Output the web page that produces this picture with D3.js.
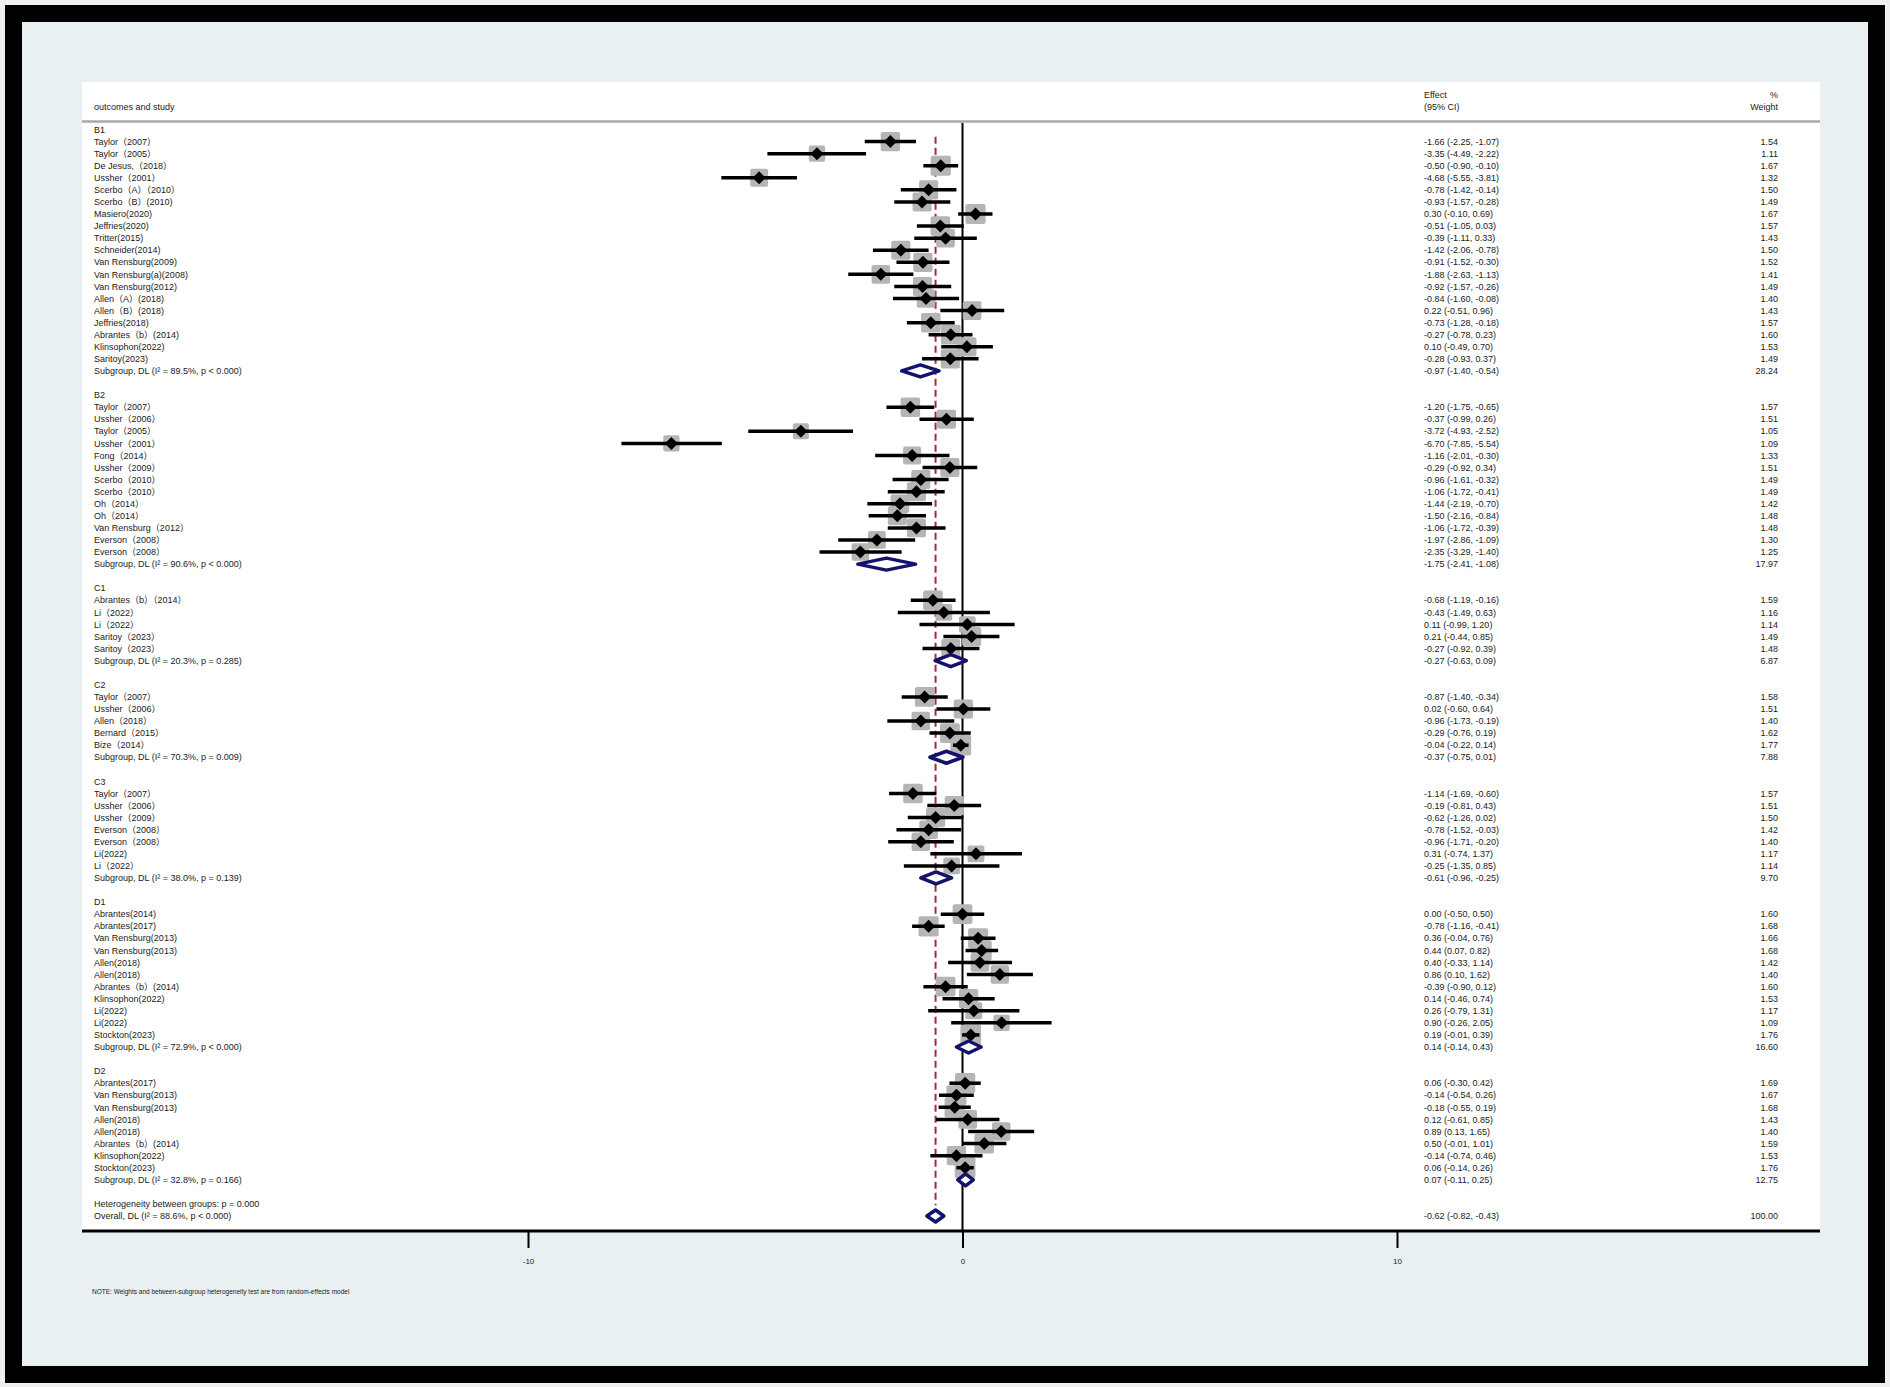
<!DOCTYPE html>
<html>
<head>
<meta charset="utf-8">
<script src="https://cdn.jsdelivr.net/npm/d3@7"></script>
<style>
  body { margin: 0; background: #efefef; }
  text { font-family: "Liberation Sans", Arial, "Noto Sans CJK SC", sans-serif; fill: #1a1a1a; }
</style>
</head>
<body>
<div id="forest"></div>
<script>
// outcome groups and how many studies in each
const groups = ["B1", "B2", "C1", "C2", "C3", "D1", "D2"];
const groupSizes = [19, 13, 5, 5, 7, 11, 8];

// study rows, in order
const studies = [
  "Taylor（2007）", "Taylor（2005）", "De Jesus,（2018）", "Ussher（2001）", "Scerbo（A）（2010）",
  "Scerbo（B）(2010)", "Masiero(2020)", "Jeffries(2020)", "Tritter(2015)", "Schneider(2014)",
  "Van Rensburg(2009)", "Van Rensburg(a)(2008)", "Van Rensburg(2012)", "Allen（A）(2018)", "Allen（B）(2018)",
  "Jeffries(2018)", "Abrantes（b）(2014)", "Klinsophon(2022)", "Saritoy(2023)",
  "Taylor（2007）", "Ussher（2006）", "Taylor（2005）", "Ussher（2001）", "Fong（2014）",
  "Ussher（2009）", "Scerbo（2010）", "Scerbo（2010）", "Oh（2014）", "Oh（2014）",
  "Van Rensburg（2012）", "Everson（2008）", "Everson（2008）",
  "Abrantes（b）（2014）", "Li（2022）", "Li（2022）", "Saritoy（2023）", "Saritoy（2023）",
  "Taylor（2007）", "Ussher（2006）", "Allen（2018）", "Bernard（2015）", "Bize（2014）",
  "Taylor（2007）", "Ussher（2006）", "Ussher（2009）", "Everson（2008）", "Everson（2008）", "Li(2022)", "Li（2022）",
  "Abrantes(2014)", "Abrantes(2017)", "Van Rensburg(2013)", "Van Rensburg(2013)", "Allen(2018)",
  "Allen(2018)", "Abrantes（b）(2014)", "Klinsophon(2022)", "Li(2022)", "Li(2022)", "Stockton(2023)",
  "Abrantes(2017)", "Van Rensburg(2013)", "Van Rensburg(2013)", "Allen(2018)", "Allen(2018)",
  "Abrantes（b）(2014)", "Klinsophon(2022)", "Stockton(2023)"
];
const effect = [
  -1.66, -3.35, -0.50, -4.68, -0.78, -0.93, 0.30, -0.51, -0.39, -1.42,
  -0.91, -1.88, -0.92, -0.84, 0.22, -0.73, -0.27, 0.10, -0.28,
  -1.20, -0.37, -3.72, -6.70, -1.16, -0.29, -0.96, -1.06, -1.44, -1.50, -1.06, -1.97, -2.35,
  -0.68, -0.43, 0.11, 0.21, -0.27,
  -0.87, 0.02, -0.96, -0.29, -0.04,
  -1.14, -0.19, -0.62, -0.78, -0.96, 0.31, -0.25,
  0.00, -0.78, 0.36, 0.44, 0.40, 0.86, -0.39, 0.14, 0.26, 0.90, 0.19,
  0.06, -0.14, -0.18, 0.12, 0.89, 0.50, -0.14, 0.06
];
const lower = [
  -2.25, -4.49, -0.90, -5.55, -1.42, -1.57, -0.10, -1.05, -1.11, -2.06,
  -1.52, -2.63, -1.57, -1.60, -0.51, -1.28, -0.78, -0.49, -0.93,
  -1.75, -0.99, -4.93, -7.85, -2.01, -0.92, -1.61, -1.72, -2.19, -2.16, -1.72, -2.86, -3.29,
  -1.19, -1.49, -0.99, -0.44, -0.92,
  -1.40, -0.60, -1.73, -0.76, -0.22,
  -1.69, -0.81, -1.26, -1.52, -1.71, -0.74, -1.35,
  -0.50, -1.16, -0.04, 0.07, -0.33, 0.10, -0.90, -0.46, -0.79, -0.26, -0.01,
  -0.30, -0.54, -0.55, -0.61, 0.13, -0.01, -0.74, -0.14
];
const upper = [
  -1.07, -2.22, -0.10, -3.81, -0.14, -0.28, 0.69, 0.03, 0.33, -0.78,
  -0.30, -1.13, -0.26, -0.08, 0.96, -0.18, 0.23, 0.70, 0.37,
  -0.65, 0.26, -2.52, -5.54, -0.30, 0.34, -0.32, -0.41, -0.70, -0.84, -0.39, -1.09, -1.40,
  -0.16, 0.63, 1.20, 0.85, 0.39,
  -0.34, 0.64, -0.19, 0.19, 0.14,
  -0.60, 0.43, 0.02, -0.03, -0.20, 1.37, 0.85,
  0.50, -0.41, 0.76, 0.82, 1.14, 1.62, 0.12, 0.74, 1.31, 2.05, 0.39,
  0.42, 0.26, 0.19, 0.85, 1.65, 1.01, 0.46, 0.26
];
const weight = [
  1.54, 1.11, 1.67, 1.32, 1.50, 1.49, 1.67, 1.57, 1.43, 1.50,
  1.52, 1.41, 1.49, 1.40, 1.43, 1.57, 1.60, 1.53, 1.49,
  1.57, 1.51, 1.05, 1.09, 1.33, 1.51, 1.49, 1.49, 1.42, 1.48, 1.48, 1.30, 1.25,
  1.59, 1.16, 1.14, 1.49, 1.48,
  1.58, 1.51, 1.40, 1.62, 1.77,
  1.57, 1.51, 1.50, 1.42, 1.40, 1.17, 1.14,
  1.60, 1.68, 1.66, 1.68, 1.42, 1.40, 1.60, 1.53, 1.17, 1.09, 1.76,
  1.69, 1.67, 1.68, 1.43, 1.40, 1.59, 1.53, 1.76
];

// pooled subgroup results
const subHet = ["89.5%, p < 0.000", "90.6%, p < 0.000", "20.3%, p = 0.285", "70.3%, p = 0.009",
                "38.0%, p = 0.139", "72.9%, p < 0.000", "32.8%, p = 0.166"];
const subEffect = [-0.97, -1.75, -0.27, -0.37, -0.61, 0.14, 0.07];
const subLower = [-1.40, -2.41, -0.63, -0.75, -0.96, -0.14, -0.11];
const subUpper = [-0.54, -1.08, 0.09, 0.01, -0.25, 0.43, 0.25];
const subWeight = [28.24, 17.97, 6.87, 7.88, 9.70, 16.60, 12.75];

// overall result
const overallEffect = -0.62, overallLower = -0.82, overallUpper = -0.43;
const overallHet = "88.6%, p < 0.000";
const betweenP = "0.000";
const xTicks = [-10, 0, 10];

// build the row table from the arrays above
const rows = [];
let r = 0, k = 0;
groups.forEach((g, gi) => {
  rows.push({ type: "head", row: r++, label: g });
  for (let j = 0; j < groupSizes[gi]; j++, k++) {
    rows.push({ type: "study", row: r++, label: studies[k], e: effect[k], lo: lower[k], hi: upper[k], w: weight[k] });
  }
  rows.push({ type: "sub", row: r, label: `Subgroup, DL (I² = ${subHet[gi]})`,
              e: subEffect[gi], lo: subLower[gi], hi: subUpper[gi], w: subWeight[gi] });
  r += 2;
});
rows.push({ type: "note", row: r++, label: `Heterogeneity between groups: p = ${betweenP}` });
rows.push({ type: "overall", row: r, label: `Overall, DL (I² = ${overallHet})`,
            e: overallEffect, lo: overallLower, hi: overallUpper, w: 100 });
const lastRow = r;

const width = 1890, height = 1387;
const panel = { left: 82, top: 82, right: 1820, bottom: 1231 };

const svg = d3.select("#forest").append("svg")
  .attr("width", width)
  .attr("height", height);

// frame + background
svg.append("rect").attr("x", 13.5).attr("y", 13.5).attr("width", 1863).attr("height", 1361)
  .attr("fill", "#e8f0f2").attr("stroke", "#000").attr("stroke-width", 17);
svg.append("rect").attr("x", panel.left).attr("y", panel.top)
  .attr("width", panel.right - panel.left).attr("height", panel.bottom - panel.top)
  .attr("fill", "#fff");

const x = d3.scaleLinear().domain([-10, 10]).range([528, 1397]);
const y = d3.scaleLinear().domain([0, lastRow]).range([129.5, 1216]);
const fmt = v => v.toFixed(2);

// header
svg.append("text").attr("x", 94).attr("y", 107).attr("dy", "0.35em").attr("font-size", 9).text("outcomes and study");
svg.append("text").attr("x", 1424).attr("y", 95).attr("dy", "0.35em").attr("font-size", 9).text("Effect");
svg.append("text").attr("x", 1424).attr("y", 107).attr("dy", "0.35em").attr("font-size", 9).text("(95% CI)");
svg.append("text").attr("x", 1778).attr("y", 95).attr("dy", "0.35em").attr("font-size", 9).attr("text-anchor", "end").text("%");
svg.append("text").attr("x", 1778).attr("y", 107).attr("dy", "0.35em").attr("font-size", 9).attr("text-anchor", "end").text("Weight");
svg.append("line").attr("x1", panel.left).attr("x2", panel.right).attr("y1", 121.5).attr("y2", 121.5)
  .attr("stroke", "#a9a9a9").attr("stroke-width", 2.5);

// reference lines
svg.append("line").attr("x1", x(0)).attr("x2", x(0)).attr("y1", 123).attr("y2", panel.bottom)
  .attr("stroke", "#000").attr("stroke-width", 2);
svg.append("line").attr("x1", x(overallEffect)).attr("x2", x(overallEffect))
  .attr("y1", y(0.6)).attr("y2", y(lastRow - 0.9))
  .attr("stroke", "#a12b3c").attr("stroke-width", 2).attr("stroke-dasharray", "7,4");

const studyRows = rows.filter(d => d.type === "study");
const pooledRows = rows.filter(d => d.type === "sub" || d.type === "overall");

// weight boxes
svg.append("g").selectAll("rect")
  .data(studyRows).enter().append("rect")
  .attr("x", d => x(d.e) - 7.8 * Math.sqrt(d.w))
  .attr("y", d => y(d.row) - 7.8 * Math.sqrt(d.w))
  .attr("width", d => 15.6 * Math.sqrt(d.w))
  .attr("height", d => 15.6 * Math.sqrt(d.w))
  .attr("rx", 2)
  .attr("fill", "#b5b5b5");

// confidence intervals
svg.append("g").selectAll("line")
  .data(studyRows).enter().append("line")
  .attr("x1", d => x(d.lo)).attr("x2", d => x(d.hi))
  .attr("y1", d => y(d.row)).attr("y2", d => y(d.row))
  .attr("stroke", "#000").attr("stroke-width", 3.5);

// point estimates
svg.append("g").selectAll("path")
  .data(studyRows).enter().append("path")
  .attr("d", d => {
    const cx = x(d.e), cy = y(d.row);
    return `M${cx - 6.5},${cy}L${cx},${cy - 6.5}L${cx + 6.5},${cy}L${cx},${cy + 6.5}Z`;
  })
  .attr("fill", "#000");

// pooled diamonds
svg.append("g").selectAll("path")
  .data(pooledRows).enter().append("path")
  .attr("d", d => {
    const cy = y(d.row);
    return `M${x(d.lo)},${cy}L${x(d.e)},${cy - 6}L${x(d.hi)},${cy}L${x(d.e)},${cy + 6}Z`;
  })
  .attr("fill", "#fff").attr("stroke", "#13136e").attr("stroke-width", 3.5)
  .attr("stroke-linejoin", "round");

// left labels
svg.append("g").selectAll("text")
  .data(rows).enter().append("text")
  .attr("x", 94).attr("y", d => y(d.row)).attr("dy", "0.35em")
  .attr("font-size", 9)
  .text(d => d.label);

// effect and weight columns
const numRows = rows.filter(d => d.e !== undefined);
svg.append("g").selectAll("text")
  .data(numRows).enter().append("text")
  .attr("x", 1424).attr("y", d => y(d.row)).attr("dy", "0.35em")
  .attr("font-size", 9)
  .text(d => `${fmt(d.e)} (${fmt(d.lo)}, ${fmt(d.hi)})`);
svg.append("g").selectAll("text")
  .data(numRows).enter().append("text")
  .attr("x", 1778).attr("y", d => y(d.row)).attr("dy", "0.35em")
  .attr("font-size", 9).attr("text-anchor", "end")
  .text(d => fmt(d.w));

// x axis
svg.append("line").attr("x1", panel.left).attr("x2", panel.right)
  .attr("y1", panel.bottom).attr("y2", panel.bottom)
  .attr("stroke", "#000").attr("stroke-width", 3);
const xAxis = svg.append("g")
  .attr("transform", `translate(0, ${panel.bottom})`)
  .call(d3.axisBottom(x).tickValues(xTicks).tickSize(17).tickPadding(10).tickFormat(d => String(d)));
xAxis.select(".domain").remove();
xAxis.selectAll(".tick line").attr("stroke", "#000").attr("stroke-width", 2);
xAxis.selectAll(".tick text").attr("font-size", 8).attr("fill", "#333")
  .style("font-family", "'Liberation Sans', Arial, sans-serif");

svg.append("text").attr("x", 92).attr("y", 1292).attr("dy", "0.35em").attr("font-size", 6.5)
  .text("NOTE: Weights and between-subgroup heterogeneity test are from random-effects model");
</script>
</body>
</html>
